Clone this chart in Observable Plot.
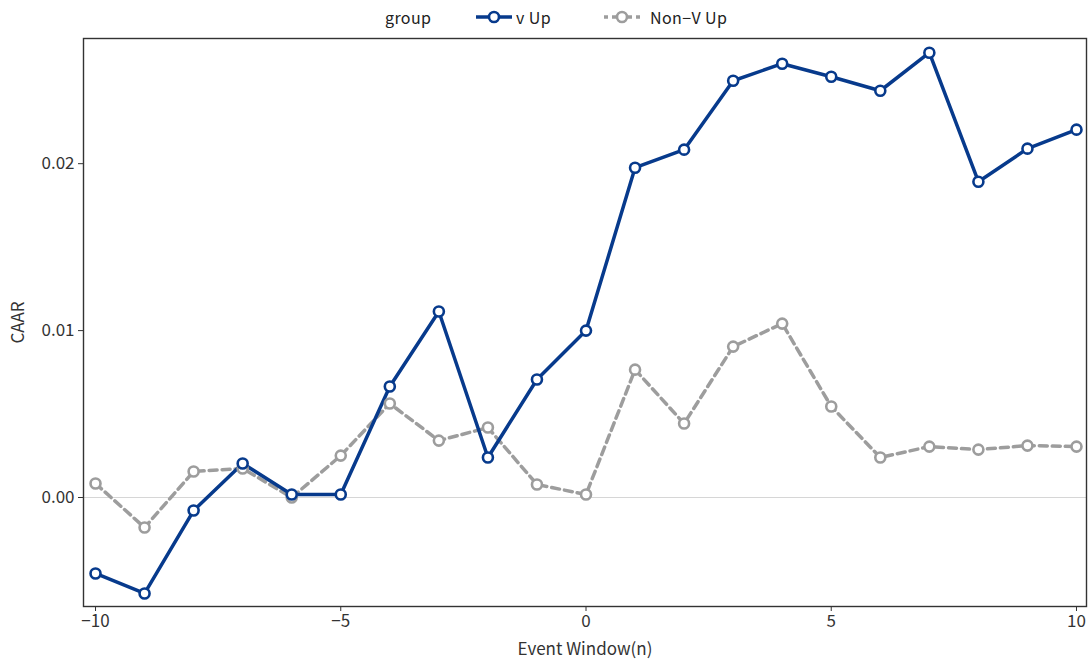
<!DOCTYPE html>
<html>
<head>
<meta charset="utf-8">
<script src="https://cdn.jsdelivr.net/npm/d3@7"></script>
<script src="https://cdn.jsdelivr.net/npm/@observablehq/plot@0.6"></script>
<style>
  body { margin: 0; background: #fff; font-family: "Noto Sans CJK KR", "Noto Sans", sans-serif; }
  #legend { height: 34px; position: relative; font-size: 16px; color: #222; letter-spacing: 0.4px; }
  #legend .item { position: absolute; top: 0; height: 34px; display: flex; align-items: center; }
  #legend svg { display: block; }
</style>
</head>
<body>
<div id="legend"></div>
<div id="chart"></div>
<script>
// Event window days
const days = [-10, -9, -8, -7, -6, -5, -4, -3, -2, -1, 0, 1, 2, 3, 4, 5, 6, 7, 8, 9, 10];

// Cumulative average abnormal returns per group
const vUp = [-0.00455, -0.00575, -0.00078, 0.00204, 0.00018, 0.00018, 0.00665, 0.01114, 0.0024, 0.00707,
  0.0100, 0.01976, 0.02084, 0.02497, 0.02599, 0.02521, 0.02437, 0.02665, 0.01892, 0.0209, 0.02204];
const nonVUp = [0.00084, -0.0018, 0.00156, 0.00174, 0.0000, 0.00251, 0.00563, 0.00341, 0.00419, 0.00078,
  0.00018, 0.00766, 0.00443, 0.00904, 0.01042, 0.00545, 0.0024, 0.00305, 0.00287, 0.00311, 0.00305];

const groups = ["v Up", "Non−V Up"];
const xTicks = [-10, -5, 0, 5, 10];
const yTicks = [0, 0.01, 0.02];

const navy = "#073a8c";
const grey = "#9d9d9d";

const vData = days.map((d, i) => ({day: d, caar: vUp[i], group: groups[0]}));
const nData = days.map((d, i) => ({day: d, caar: nonVUp[i], group: groups[1]}));

const chart = Plot.plot({
  width: 1088,
  height: 625,
  marginTop: 4,
  marginBottom: 53,
  marginLeft: 83,
  marginRight: 2,
  style: {fontFamily: "'Noto Sans CJK KR', 'Noto Sans', sans-serif", fontSize: "17px", color: "#333", background: "#fff"},
  x: {domain: [-10.245, 10.204]},
  y: {domain: [-0.00653, 0.0275]},
  marks: [
    Plot.ruleY([0], {stroke: "#d6d6d6", strokeWidth: 1}),
    Plot.line(nData, {x: "day", y: "caar", stroke: grey, strokeWidth: 3.5, strokeDasharray: "8,5"}),
    Plot.line(vData, {x: "day", y: "caar", stroke: navy, strokeWidth: 3.5}),
    Plot.dot(nData, {x: "day", y: "caar", r: 5, fill: "white", stroke: grey, strokeWidth: 2.6}),
    Plot.dot(vData, {x: "day", y: "caar", r: 5, fill: "white", stroke: navy, strokeWidth: 2.6}),
    Plot.frame({stroke: "#333", strokeWidth: 1.4}),
    Plot.axisX({ticks: xTicks, tickSize: 5, tickPadding: 3, label: "Event Window(n)", labelAnchor: "center", labelArrow: "none", labelOffset: 48, stroke: "#333", fill: "#333"}),
    Plot.axisY({ticks: yTicks, tickSize: 5, tickPadding: 4, tickFormat: d3.format(".2f"), label: "CAAR", labelAnchor: "center", labelArrow: "none", labelOffset: 72, stroke: "#333", fill: "#333"})
  ]
});
document.getElementById("chart").appendChild(chart);

// Legend row above the plot
const legend = document.getElementById("legend");
function addText(left, text) {
  const el = document.createElement("div");
  el.className = "item";
  el.style.left = left + "px";
  el.textContent = text;
  legend.appendChild(el);
}
function addKey(left, color, dashed) {
  const el = document.createElement("div");
  el.className = "item";
  el.style.left = left + "px";
  el.innerHTML = `<svg width="38" height="20"><line x1="1" x2="37" y1="10" y2="10" stroke="${color}" stroke-width="3.5" ${dashed ? 'stroke-dasharray="4,4"' : ''}/><circle cx="19" cy="10" r="5" fill="white" stroke="${color}" stroke-width="2.6"/></svg>`;
  legend.appendChild(el);
}
addText(385, "group");
addKey(475, navy, false);
addText(516, groups[0]);
addKey(603, grey, true);
addText(650, groups[1]);
</script>
</body>
</html>
